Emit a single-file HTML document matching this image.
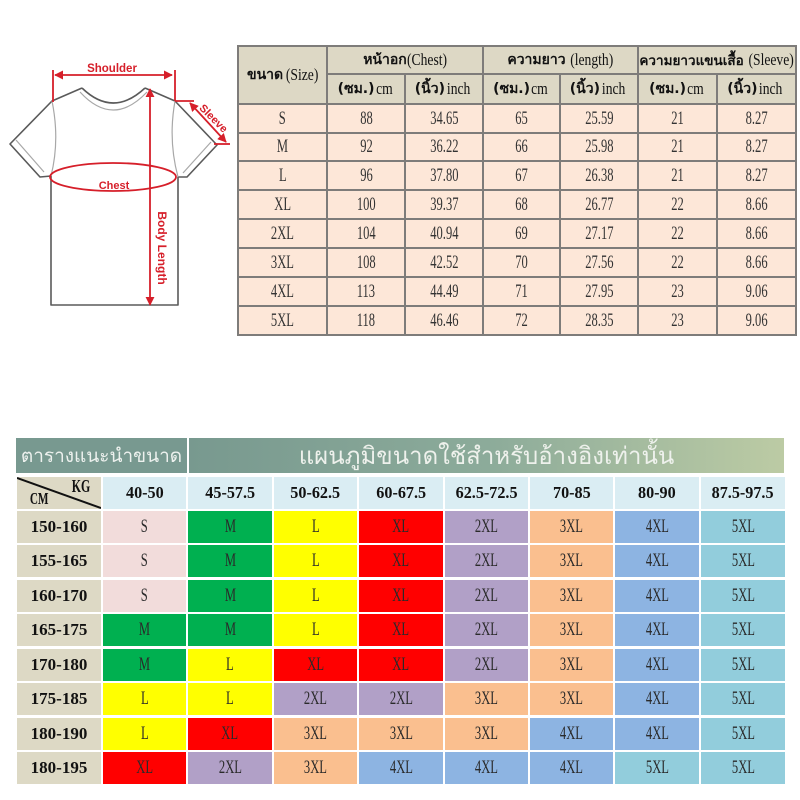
<!DOCTYPE html>
<html><head><meta charset="utf-8">
<style>
*{margin:0;padding:0;box-sizing:border-box}
html,body{width:800px;height:800px;background:#fff;overflow:hidden;position:relative}
body{font-family:"Liberation Serif","DejaVu Sans","Noto Sans CJK SC",serif}
.t1{position:absolute;left:237px;top:45px;width:560px;height:291px;background:#7e7c7a;padding:2px;display:grid;gap:2px;
grid-template-columns:87px 76px 76px 75px 76px 77px 77px;
grid-template-rows:26px 28px 27px 26px 27px 27px 27px 27px 27px 27px}
.t1>div{display:flex;align-items:center;justify-content:center;background:#fde7d8;color:#333;font-size:19px;white-space:nowrap}
.t1>div.h{background:#ddd8c5;color:#111;font-size:17px}
.t1 span{display:inline-block;transform:scaleX(.66)}
.t1 .h span{transform:scaleX(.8);margin:0 0 0 -1px}
.t1 .h1 span{margin:0 -5px}
.t1 b{font-family:"DejaVu Sans","Liberation Sans",sans-serif;font-size:14px}
.bn1{position:absolute;left:16px;top:438px;width:171px;height:35px;background:#789990;color:#edf1ee;font-family:"DejaVu Sans","Liberation Sans",sans-serif;font-size:19px;display:flex;align-items:center;justify-content:center;white-space:nowrap}
.bn2{position:absolute;left:189px;top:438px;width:595px;height:35px;background:linear-gradient(to right,#78998f,#8cab9a 50%,#bccba4);color:#eef1ec;font-family:"DejaVu Sans","Liberation Sans",sans-serif;font-size:24px;display:flex;align-items:center;justify-content:center;white-space:nowrap}
.t2{position:absolute;left:17px;top:477px;display:grid;column-gap:2px;row-gap:2.1px;
grid-template-columns:84px 83px 84px 83px 84px 83px 83px 84px 84px;
grid-template-rows:31.5px 32.4px 32.4px 32.4px 32.4px 32.4px 32.4px 32.4px 32.4px}
.t2>div{display:flex;align-items:center;justify-content:center;font-size:19px;color:#2a2a2a;white-space:nowrap}
.t2 span{display:inline-block;transform:scaleX(.66)}
.t2 .k{background:#daedf3;font-weight:bold;color:#111;font-size:17px}
.t2 .k span{transform:scaleX(.95)}
.t2 .l{background:#ddd9c5;font-weight:bold;color:#111;font-size:17px}
.t2 .l span{transform:none}
.p{background:#f2dcdb}.g{background:#00b050}.y{background:#ffff00}.r{background:#ff0000}
.u{background:#b1a0c7}.o{background:#fabf8f}.b{background:#8db4e2}.c{background:#92cddc}
.kg{position:relative;background:#ddd9c5}
</style></head><body>

<svg style="position:absolute;left:0;top:0" width="240" height="340" viewBox="0 0 240 340">
<defs>
<marker id="ar" viewBox="0 0 10 10" refX="9" refY="5" markerWidth="5" markerHeight="5" orient="auto-start-reverse"><path d="M0,0 L10,5 L0,10 z" fill="#d61f2a"/></marker>
</defs>
<g fill="none" stroke="#5a5a5a" stroke-width="1.6" stroke-linejoin="round">
<path d="M82,88 L52,101 L10,144 L40,177 L51,176 L51,305 L178,305 L178,177 L187,177 L217,145 L175,101 L145,88"/>
<path d="M82,88 Q113,118 145,88"/>
</g>
<g fill="none" stroke="#a8a8a8" stroke-width="1.2">
<path d="M80,92 Q113,128 147,92"/>
<path d="M52,101 Q60,140 51,176"/>
<path d="M175,101 Q168,140 178,177"/>
<path d="M16,140 L44,172"/>
<path d="M211,142 L183,173"/>
</g>
<g stroke="#d61f2a" stroke-width="1.8" fill="none">
<line x1="53" y1="70" x2="53" y2="102"/>
<line x1="175" y1="70" x2="175" y2="101"/>
<line x1="55" y1="75" x2="172" y2="75" marker-start="url(#ar)" marker-end="url(#ar)"/>
<line x1="150" y1="89" x2="150" y2="305" marker-start="url(#ar)" marker-end="url(#ar)"/>
<ellipse cx="113" cy="177" rx="63" ry="14"/>
<line x1="175" y1="101" x2="194" y2="101"/>
<line x1="214" y1="144" x2="230" y2="144"/>
<line x1="190" y1="103" x2="226" y2="142" marker-start="url(#ar)" marker-end="url(#ar)"/>
</g>
<g fill="#d61f2a" font-family="Liberation Sans, sans-serif" font-weight="bold" font-size="11.5">
<text x="112" y="72" text-anchor="middle">Shoulder</text>
<text x="114" y="189" text-anchor="middle" font-size="11">Chest</text>
<text transform="translate(158,248) rotate(90)" text-anchor="middle" font-size="12">Body Length</text>
<text transform="translate(211,121) rotate(45)" text-anchor="middle" font-size="11">Sleeve</text>
</g>
</svg>

<div class="t1">
<div class="h h1" style="grid-row:1/3"><b>ขนาด</b><span>&nbsp;(Size)</span></div>
<div class="h h1" style="grid-column:2/4"><b>หน้าอก</b><span>(Chest)</span></div>
<div class="h h1" style="grid-column:4/6"><b>ความยาว</b><span>&nbsp;(length)</span></div>
<div class="h h1" style="grid-column:6/8"><b style="font-size:13.5px">ความยาวแขนเสื้อ</b><span>&nbsp;(Sleeve)</span></div>
<div class="h"><b>(ซม.)</b><span>cm</span></div><div class="h"><b>(นิ้ว)</b><span>inch</span></div>
<div class="h"><b>(ซม.)</b><span>cm</span></div><div class="h"><b>(นิ้ว)</b><span>inch</span></div>
<div class="h"><b>(ซม.)</b><span>cm</span></div><div class="h"><b>(นิ้ว)</b><span>inch</span></div>
<div><span>S</span></div><div><span>88</span></div><div><span>34.65</span></div><div><span>65</span></div><div><span>25.59</span></div><div><span>21</span></div><div><span>8.27</span></div>
<div><span>M</span></div><div><span>92</span></div><div><span>36.22</span></div><div><span>66</span></div><div><span>25.98</span></div><div><span>21</span></div><div><span>8.27</span></div>
<div><span>L</span></div><div><span>96</span></div><div><span>37.80</span></div><div><span>67</span></div><div><span>26.38</span></div><div><span>21</span></div><div><span>8.27</span></div>
<div><span>XL</span></div><div><span>100</span></div><div><span>39.37</span></div><div><span>68</span></div><div><span>26.77</span></div><div><span>22</span></div><div><span>8.66</span></div>
<div><span>2XL</span></div><div><span>104</span></div><div><span>40.94</span></div><div><span>69</span></div><div><span>27.17</span></div><div><span>22</span></div><div><span>8.66</span></div>
<div><span>3XL</span></div><div><span>108</span></div><div><span>42.52</span></div><div><span>70</span></div><div><span>27.56</span></div><div><span>22</span></div><div><span>8.66</span></div>
<div><span>4XL</span></div><div><span>113</span></div><div><span>44.49</span></div><div><span>71</span></div><div><span>27.95</span></div><div><span>23</span></div><div><span>9.06</span></div>
<div><span>5XL</span></div><div><span>118</span></div><div><span>46.46</span></div><div><span>72</span></div><div><span>28.35</span></div><div><span>23</span></div><div><span>9.06</span></div>
</div>

<div class="bn1">ตารางแนะนำขนาด</div>
<div class="bn2">แผนภูมิขนาดใช้สำหรับอ้างอิงเท่านั้น</div>

<div class="t2">
<div class="kg"><svg style="position:absolute;left:0;top:0" width="84" height="32"><line x1="0" y1="1" x2="84" y2="31" stroke="#111" stroke-width="2"/></svg><span style="position:absolute;right:6px;top:-1px;font-weight:bold;font-size:18px;color:#111">KG</span><span style="position:absolute;left:8px;bottom:0px;font-weight:bold;font-size:17px;color:#111">CM</span></div>
<div class="k"><span>40-50</span></div><div class="k"><span>45-57.5</span></div><div class="k"><span>50-62.5</span></div><div class="k"><span>60-67.5</span></div><div class="k"><span>62.5-72.5</span></div><div class="k"><span>70-85</span></div><div class="k"><span>80-90</span></div><div class="k"><span>87.5-97.5</span></div>

<div class="l"><span>150-160</span></div><div class="p"><span>S</span></div><div class="g"><span>M</span></div><div class="y"><span>L</span></div><div class="r"><span>XL</span></div><div class="u"><span>2XL</span></div><div class="o"><span>3XL</span></div><div class="b"><span>4XL</span></div><div class="c"><span>5XL</span></div>
<div class="l"><span>155-165</span></div><div class="p"><span>S</span></div><div class="g"><span>M</span></div><div class="y"><span>L</span></div><div class="r"><span>XL</span></div><div class="u"><span>2XL</span></div><div class="o"><span>3XL</span></div><div class="b"><span>4XL</span></div><div class="c"><span>5XL</span></div>
<div class="l"><span>160-170</span></div><div class="p"><span>S</span></div><div class="g"><span>M</span></div><div class="y"><span>L</span></div><div class="r"><span>XL</span></div><div class="u"><span>2XL</span></div><div class="o"><span>3XL</span></div><div class="b"><span>4XL</span></div><div class="c"><span>5XL</span></div>
<div class="l"><span>165-175</span></div><div class="g"><span>M</span></div><div class="g"><span>M</span></div><div class="y"><span>L</span></div><div class="r"><span>XL</span></div><div class="u"><span>2XL</span></div><div class="o"><span>3XL</span></div><div class="b"><span>4XL</span></div><div class="c"><span>5XL</span></div>
<div class="l"><span>170-180</span></div><div class="g"><span>M</span></div><div class="y"><span>L</span></div><div class="r"><span>XL</span></div><div class="r"><span>XL</span></div><div class="u"><span>2XL</span></div><div class="o"><span>3XL</span></div><div class="b"><span>4XL</span></div><div class="c"><span>5XL</span></div>
<div class="l"><span>175-185</span></div><div class="y"><span>L</span></div><div class="y"><span>L</span></div><div class="u"><span>2XL</span></div><div class="u"><span>2XL</span></div><div class="o"><span>3XL</span></div><div class="o"><span>3XL</span></div><div class="b"><span>4XL</span></div><div class="c"><span>5XL</span></div>
<div class="l"><span>180-190</span></div><div class="y"><span>L</span></div><div class="r"><span>XL</span></div><div class="o"><span>3XL</span></div><div class="o"><span>3XL</span></div><div class="o"><span>3XL</span></div><div class="b"><span>4XL</span></div><div class="b"><span>4XL</span></div><div class="c"><span>5XL</span></div>
<div class="l"><span>180-195</span></div><div class="r"><span>XL</span></div><div class="u"><span>2XL</span></div><div class="o"><span>3XL</span></div><div class="b"><span>4XL</span></div><div class="b"><span>4XL</span></div><div class="b"><span>4XL</span></div><div class="c"><span>5XL</span></div><div class="c"><span>5XL</span></div>
</div>
</body></html>
